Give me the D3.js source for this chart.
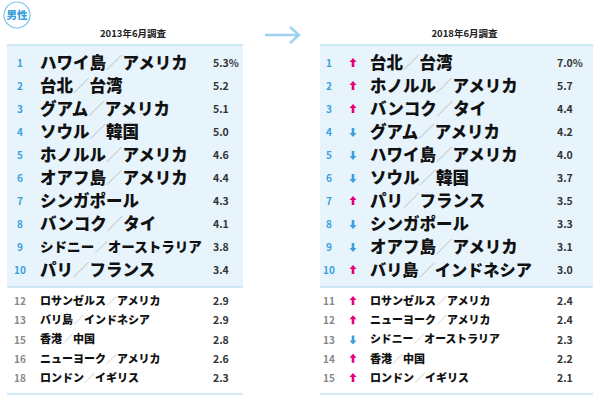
<!DOCTYPE html>
<html><head><meta charset="utf-8">
<script src="https://cdn.jsdelivr.net/npm/d3@7"></script>
<style>body{margin:0;background:#fff}text{font-family:"Noto Sans CJK JP";}</style>
</head><body><svg id="c" width="600" height="401"></svg>
<script>
const titles = ['2013年6月調査', '2018年6月調査'];
const ranks2013 = [1,2,3,4,5,6,7,8,9,10,12,13,15,16,18];
const names2013 = ['ハワイ島／アメリカ','台北／台湾','グアム／アメリカ','ソウル／韓国','ホノルル／アメリカ','オアフ島／アメリカ','シンガポール','バンコク／タイ','シドニー／オーストラリア','パリ／フランス',
  'ロサンゼルス／アメリカ','バリ島／インドネシア','香港／中国','ニューヨーク／アメリカ','ロンドン／イギリス'];
const values2013 = [5.3,5.2,5.1,5.0,4.6,4.4,4.3,4.1,3.8,3.4,2.9,2.9,2.8,2.6,2.3];
const ranks2018 = [1,2,3,4,5,6,7,8,9,10,11,12,13,14,15];
const names2018 = ['台北／台湾','ホノルル／アメリカ','バンコク／タイ','グアム／アメリカ','ハワイ島／アメリカ','ソウル／韓国','パリ／フランス','シンガポール','オアフ島／アメリカ','バリ島／インドネシア',
  'ロサンゼルス／アメリカ','ニューヨーク／アメリカ','シドニー／オーストラリア','香港／中国','ロンドン／イギリス'];
const values2018 = [7.0,5.7,4.4,4.2,4.0,3.7,3.5,3.3,3.1,3.0,2.4,2.4,2.3,2.2,2.1];
const trend2018 = ['up','up','up','down','down','down','up','down','down','up','up','up','down','up','up'];

const svg = d3.select('#c');
const blue = '#3aa0dc', pink = '#e4007f';
const topY = d3.scalePoint().domain(d3.range(10)).range([63, 270]);
const botY = d3.scalePoint().domain(d3.range(5)).range([301, 378]);

svg.append('circle').attr('cx',17).attr('cy',15).attr('r',13).attr('fill','#fff').attr('stroke','#7cc3ea').attr('stroke-width',1.2);
svg.append('text').attr('x',17).attr('y',19).attr('text-anchor','middle').attr('font-size',10.5).attr('font-weight',900).attr('fill',blue).text('男性');
svg.append('path').attr('d','M265,35 H298 M290,27 L299,35 L290,43').attr('fill','none').attr('stroke','#9fd2ef').attr('stroke-width',2.5);

function panel(x0, x1, title, ranks, names, values, trend) {
  const g = svg.append('g');
  g.append('text').attr('x',(x0+x1)/2 + 8).attr('y',37).attr('text-anchor','middle').attr('font-size',9.5).attr('font-weight',700).attr('fill','#222').text(title);
  g.append('rect').attr('x',x0).attr('y',45).attr('width',x1-x0).attr('height',242).attr('fill','#e7f4fc');
  [45, 287, 394].forEach(ly => g.append('line').attr('x1',x0).attr('x2',x1).attr('y1',ly).attr('y2',ly).attr('stroke','#a9d6f0').attr('stroke-width',1.2));
  const rankX = x0 + (trend ? 9 : 13);
  const nameX = x0 + (trend ? 50 : 33);
  const valX = x1 - (trend ? 36 : 30);
  ranks.forEach((r, i) => {
    const big = i < 10;
    const y = big ? topY(i) : botY(i - 10);
    let fs = big ? 16.5 : 11;
    g.append('text').attr('x', rankX).attr('y', y + 4).attr('text-anchor','middle')
      .attr('font-size', 10).attr('font-weight',700).attr('fill', big ? blue : '#888').text(r);
    if (trend) {
      const ax = x0 + 33, up = trend[i] === 'up';
      const s = up ? 1 : -1;
      const path = `M${ax},${y-5*s} L${ax+3.5},${y-1*s} L${ax+1.3},${y-1*s} L${ax+1.3},${y+4*s} L${ax-1.3},${y+4*s} L${ax-1.3},${y-1*s} L${ax-3.5},${y-1*s}Z`;
      g.append('path').attr('d', path).attr('fill', up ? pink : blue);
    }
    const t = g.append('text').attr('x', nameX).attr('font-size', fs).attr('font-weight',900).attr('fill','#111');
    names[i].split('／').forEach((p, k) => {
      if (k > 0) t.append('tspan').attr('fill','#bbb').attr('font-weight',300).text('／');
      t.append('tspan').text(p);
    });
    const maxW = big ? 162 : 130;
    const w = t.node().getComputedTextLength();
    if (w > maxW) { fs = fs * maxW / w; t.attr('font-size', fs); }
    t.attr('y', y + fs*0.36);
    g.append('text').attr('x', valX).attr('y', y + 4).attr('font-size', 10.5).attr('font-weight',700).attr('fill','#333')
      .text(values[i].toFixed(1) + (i === 0 ? '%' : ''));
  });
}
panel(7, 243, titles[0], ranks2013, names2013, values2013, null);
panel(320, 593, titles[1], ranks2018, names2018, values2018, trend2018);
</script></body></html>
